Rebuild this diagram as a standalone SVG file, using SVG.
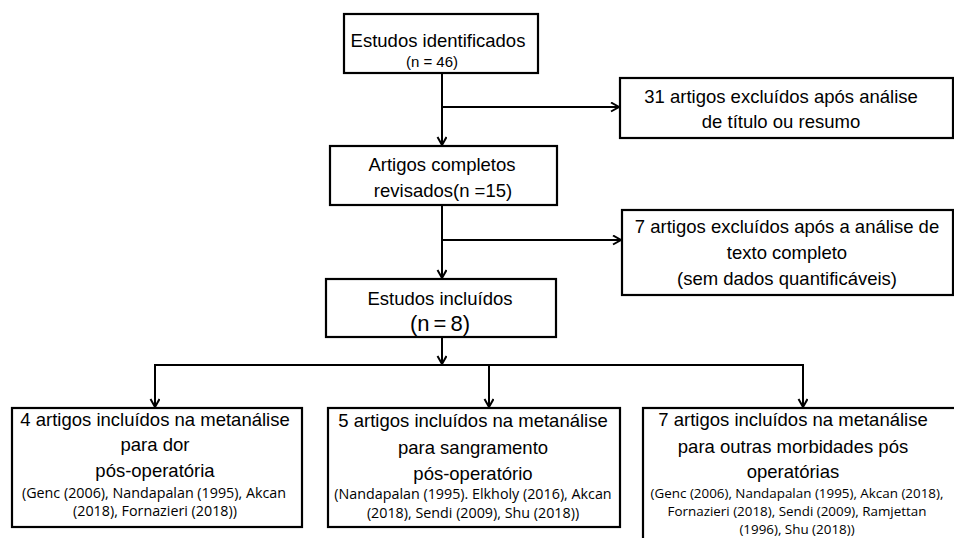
<svg xmlns="http://www.w3.org/2000/svg" width="954" height="538" viewBox="0 0 954 538">
<defs>
<marker id="arr" markerWidth="12" markerHeight="12" refX="9" refY="5" orient="auto" markerUnits="userSpaceOnUse">
<path d="M1,0.5 L9,5 L1,9.5" fill="none" stroke="#000" stroke-width="2"/>
</marker>
</defs>
<style>
.box{fill:#fff;stroke:#000;stroke-width:2.2}
.t{font-family:"Liberation Sans",Arial,sans-serif;font-size:18.5px;fill:#000;text-anchor:middle}
.s{font-family:"Open Sans","Noto Sans",sans-serif;font-size:14.3px;fill:#000;text-anchor:middle}
.r{font-size:13.4px}
.c{fill:none;stroke:#000;stroke-width:2}
</style>
<rect width="954" height="538" fill="#fff"/>
<g id="connectors">
<line class="c" x1="442" y1="73" x2="442" y2="145" marker-end="url(#arr)"/>
<line class="c" x1="442" y1="107" x2="619" y2="107" marker-end="url(#arr)"/>
<line class="c" x1="442" y1="205" x2="442" y2="278" marker-end="url(#arr)"/>
<line class="c" x1="442" y1="240" x2="621" y2="240" marker-end="url(#arr)"/>
<line class="c" x1="442" y1="337" x2="442" y2="364" marker-end="url(#arr)"/>
<line class="c" x1="155" y1="365" x2="803" y2="365"/>
<line class="c" x1="155" y1="364" x2="155" y2="407" marker-end="url(#arr)"/>
<line class="c" x1="489" y1="364" x2="489" y2="407" marker-end="url(#arr)"/>
<line class="c" x1="803" y1="364" x2="803" y2="407" marker-end="url(#arr)"/>
</g>
<g id="n1">
<rect class="box" x="344" y="14" width="194" height="59"/>
<text class="t" x="438" y="47">Estudos identificados</text>
<text class="t" x="432" y="67" style="font-size:15px">(n = 46)</text>
</g>
<g id="n2">
<rect class="box" x="620" y="78" width="333" height="60"/>
<text class="t" x="781" y="103">31 artigos excluídos após análise</text>
<text class="t" x="781" y="128">de título ou resumo</text>
</g>
<g id="n3">
<rect class="box" x="330" y="146" width="227" height="59"/>
<text class="t" x="442" y="171">Artigos completos</text>
<text class="t" x="443" y="197">revisados(n =15)</text>
</g>
<g id="n4">
<rect class="box" x="622" y="210" width="331" height="85"/>
<text class="t" x="787" y="233">7 artigos excluídos após a análise de</text>
<text class="t" x="787" y="259">texto completo</text>
<text class="t" x="787" y="285">(sem dados quantificáveis)</text>
</g>
<g id="n5">
<rect class="box" x="326" y="279" width="230" height="58"/>
<text class="t" x="440" y="305">Estudos incluídos</text>
<text class="t" x="440" y="331" style="font-size:22px;word-spacing:-2px">(n = 8)</text>
</g>
<g id="n6">
<rect class="box" x="12" y="408" width="290" height="119"/>
<text class="t" x="155" y="426">4 artigos incluídos na metanálise</text>
<text class="t" x="155" y="451">para dor</text>
<text class="t" x="155" y="477">pós-operatória</text>
<text class="s" x="154" y="498">(Genc (2006), Nandapalan (1995), Akcan</text>
<text class="s" x="155" y="516">(2018), Fornazieri (2018))</text>
</g>
<g id="n7">
<rect class="box" x="328" y="408" width="292" height="119"/>
<text class="t" x="473" y="427">5 artigos incluídos na metanálise</text>
<text class="t" x="473" y="454">para sangramento</text>
<text class="t" x="473" y="480">pós-operatório</text>
<text class="s" x="473" y="499">(Nandapalan (1995). Elkholy (2016), Akcan</text>
<text class="s" x="473" y="518">(2018), Sendi (2009), Shu (2018))</text>
</g>
<g id="n8">
<rect class="box" x="643" y="408" width="320" height="140"/>
<text class="t" x="793" y="426">7 artigos incluídos na metanálise</text>
<text class="t" x="793" y="453">para outras morbidades pós</text>
<text class="t" x="793" y="478">operatórias</text>
<text class="s r" x="797" y="498">(Genc (2006), Nandapalan (1995), Akcan (2018),</text>
<text class="s r" x="797" y="516">Fornazieri (2018), Sendi (2009), Ramjettan</text>
<text class="s r" x="797" y="534">(1996), Shu (2018))</text>
</g>
</svg>
